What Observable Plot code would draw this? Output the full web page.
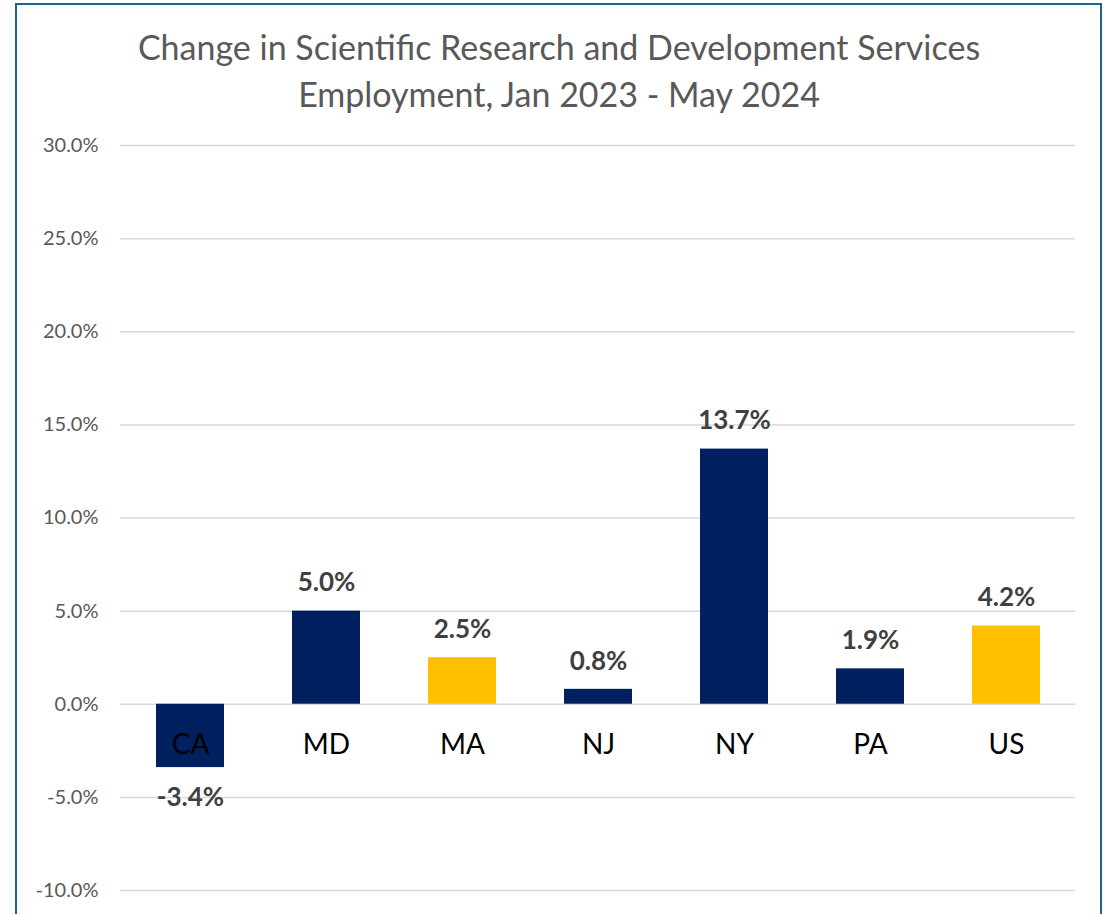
<!DOCTYPE html>
<html>
<head>
<meta charset="utf-8">
<script src="https://cdn.jsdelivr.net/npm/d3@7"></script>
<script src="https://cdn.jsdelivr.net/npm/@observablehq/plot@0.6"></script>
<style>
  html, body { margin: 0; padding: 0; background: #fff; overflow: hidden; }
  #wrap { position: relative; width: 1109px; height: 914px; }
  #frame { position: absolute; left: 15px; top: 3px; width: 1087px; height: 950px;
           border: 2px solid #1f6391; box-sizing: border-box; }
  #title { position: absolute; left: 0; top: 23px; width: 1118px; text-align: center;
           font-family: Lato, "Open Sans", sans-serif; font-size: 34px; line-height: 47px;
           color: #595959; }
  #chart { position: absolute; left: 0; top: 0; }
</style>
</head>
<body>
<div id="wrap">
  <div id="frame"></div>
  <div id="chart"></div>
  <div id="title">Change in Scientific Research and Development Services<br>Employment, Jan 2023 - May 2024</div>
</div>
<script>
const states = ["CA", "MD", "MA", "NJ", "NY", "PA", "US"];
const values = [-3.4, 5.0, 2.5, 0.8, 13.7, 1.9, 4.2];
const colors = ["#002060", "#002060", "#FFC000", "#002060", "#002060", "#002060", "#FFC000"];
const yTicks = [-10, -5, 0, 5, 10, 15, 20, 25, 30];

const data = states.map((s, i) => ({state: s, value: values[i], color: colors[i]}));
const pos = data.filter(d => d.value >= 0);
const neg = data.filter(d => d.value < 0);

const chart = Plot.plot({
  width: 1109,
  height: 914,
  marginTop: 145,
  marginBottom: 24,
  marginLeft: 120,
  marginRight: 34,
  style: {fontFamily: "Lato, 'Open Sans', sans-serif", background: "transparent"},
  x: {domain: states, paddingInner: 0.5, paddingOuter: 0.25, axis: null},
  y: {domain: [-10, 30], axis: null},
  color: {type: "identity"},
  marks: [
    Plot.ruleY(yTicks, {stroke: "#d9d9d9", strokeWidth: 1.5}),
    Plot.axisY({ticks: yTicks, tickSize: 0, tickPadding: 22, tickFormat: d => d.toFixed(1) + "%",
                fontSize: 20, fill: "#595959", label: null}),
    Plot.barY(data, {x: "state", y: "value", fill: "color"}),
    Plot.text(data, {x: "state", y: 0, text: "state", dy: 41, fontSize: 28, fill: "#000"}),
    Plot.text(pos, {x: "state", y: "value", text: d => d.value.toFixed(1) + "%", dy: -28,
                    fontSize: 26, fontWeight: "bold", fill: "#404040"}),
    Plot.text(neg, {x: "state", y: "value", text: d => d.value.toFixed(1) + "%", dy: 30,
                    fontSize: 26, fontWeight: "bold", fill: "#404040"})
  ]
});
document.getElementById("chart").appendChild(chart);
</script>
</body>
</html>
